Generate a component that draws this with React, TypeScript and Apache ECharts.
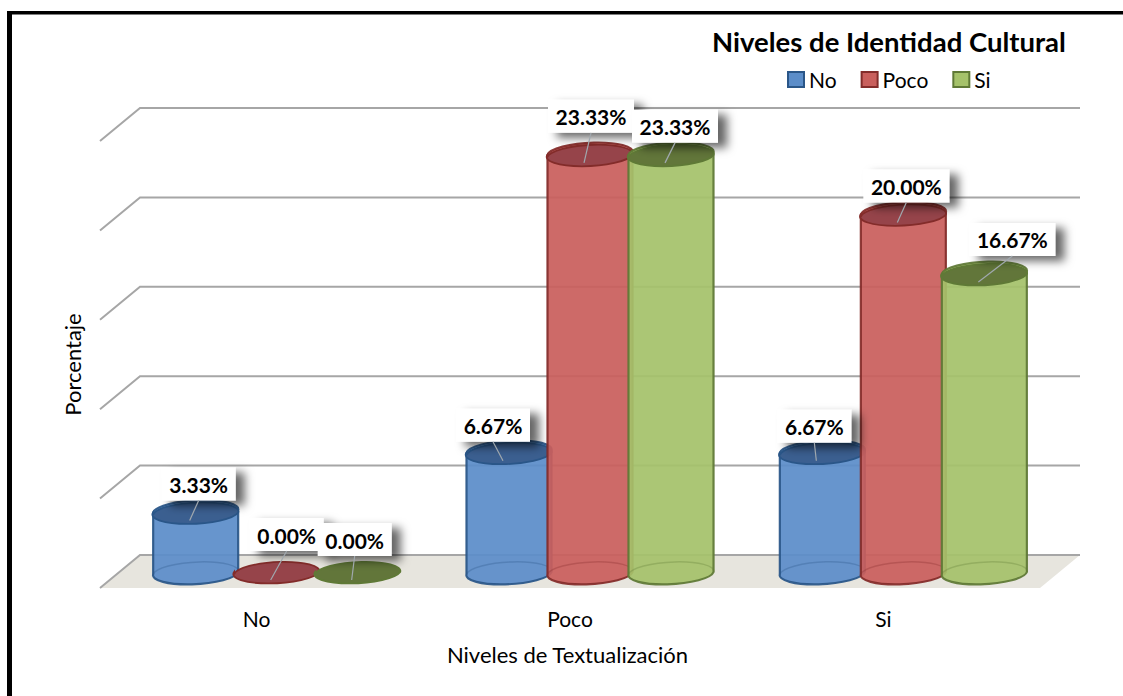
import React, { useEffect, useRef } from "react";
import * as echarts from "echarts";

const categories = ["No", "Poco", "Si"];
const seriesNames = ["No", "Poco", "Si"];
const noValues = [3.33, 6.67, 6.67];
const pocoValues = [0, 23.33, 20];
const siValues = [0, 23.33, 16.67];
const wallTicks = [0, 5, 10, 15, 20, 25];

const FONT = "Lato, 'Open Sans', sans-serif";
const BAR_SPREAD = 81;
const DEPTH_X = 40;
const DEPTH_Y = 33;
const MID_X = 20;
const MID_Y = 16;
const RX = 42.5;
const RY = 11;
const TILT = 3;
const TILT_DY = RX * Math.sin((TILT * Math.PI) / 180);

const palette = [
  { body: "#5b8dc9", edge: "#2a5688", top: "#3b5f90" },
  { body: "#c95f5c", edge: "#832c2a", top: "#96444a" },
  { body: "#a5c26a", edge: "#5f7936", top: "#62763a" },
];

// label placement relative to each cylinder's top, [series][category]
const labelShift = [
  [[3, -28], [-16, -27], [-8, -26]],
  [[10, -37], [1, -38], [3, -28]],
  [[-3, -32], [4, -28], [28, -34]],
];

function cylinderItem(seriesIndex: number) {
  return (_params: any, api: any) => {
    const cat = api.value(0);
    const val = api.value(1);
    const c = palette[seriesIndex];
    const x = api.coord([cat, 0])[0] + MID_X + (seriesIndex - 1) * BAR_SPREAD;
    const yBase = api.coord([cat, 0])[1] - MID_Y;
    const yTop = api.coord([cat, val])[1] - MID_Y;
    const l = x - RX;
    const r = x + RX;
    const arc = `A${RX} ${RY} ${-TILT}`;
    const body =
      `M${l} ${yTop + TILT_DY}L${l} ${yBase + TILT_DY}` +
      `${arc} 0 0 ${r} ${yBase - TILT_DY}L${r} ${yTop - TILT_DY}` +
      `${arc} 0 0 ${l} ${yTop + TILT_DY}Z`;
    const back = `M${l} ${yBase + TILT_DY}${arc} 0 1 ${r} ${yBase - TILT_DY}`;
    const top =
      `M${l} ${yTop + TILT_DY}${arc} 0 1 ${r} ${yTop - TILT_DY}` +
      `${arc} 0 1 ${l} ${yTop + TILT_DY}Z`;
    const children: any[] = [];
    if (val > 0) {
      children.push({
        type: "path",
        shape: { pathData: body },
        style: { fill: c.body, stroke: c.edge, lineWidth: 2.2, opacity: 0.93 },
      });
      children.push({
        type: "path",
        shape: { pathData: back },
        style: { fill: "none", stroke: c.edge, lineWidth: 1.5, opacity: 0.3 },
      });
    }
    children.push({
      type: "path",
      shape: { pathData: top },
      style: { fill: c.top, stroke: c.edge, lineWidth: 1.8 },
    });
    return { type: "group", children };
  };
}

function wallItem(params: any, api: any) {
  const v = api.value(1);
  const y = api.coord([0, v])[1];
  const left = params.coordSys.x;
  const right = left + params.coordSys.width;
  const children: any[] = [];
  if (v === 0) {
    children.push({
      type: "polygon",
      shape: {
        points: [
          [left, y],
          [left + DEPTH_X, y - DEPTH_Y],
          [right + DEPTH_X, y - DEPTH_Y],
          [right, y],
        ],
      },
      style: { fill: "#e7e5de" },
    });
  }
  children.push({
    type: "polyline",
    shape: {
      points: [
        [left, y],
        [left + DEPTH_X, y - DEPTH_Y],
        [right + DEPTH_X, y - DEPTH_Y],
      ],
    },
    style: { stroke: "#a6a6a6", lineWidth: 2, fill: "none" },
  });
  return { type: "group", children };
}

function labelItem(seriesIndex: number) {
  return (_params: any, api: any) => {
    const cat = api.value(0);
    const val = api.value(1);
    const x = api.coord([cat, 0])[0] + MID_X + (seriesIndex - 1) * BAR_SPREAD;
    const y = api.coord([cat, val])[1] - MID_Y;
    const [dx, dy] = labelShift[seriesIndex][cat];
    const lx = x + dx;
    const ly = y + dy;
    const w = val >= 10 ? 86 : 74;
    return {
      type: "group",
      children: [
        {
          type: "rect",
          shape: { x: lx - w / 2, y: ly - 17, width: w, height: 33 },
          style: {
            fill: "#ffffff",
            shadowBlur: 10,
            shadowOffsetX: 9,
            shadowOffsetY: 5,
            shadowColor: "rgba(0,0,0,0.6)",
          },
        },
        {
          type: "line",
          shape: { x1: lx, y1: ly + 16, x2: x - 6, y2: y + 8 },
          style: { stroke: "#a0a8ae", lineWidth: 1.2 },
        },
        {
          type: "text",
          x: lx,
          y: ly,
          style: {
            text: val.toFixed(2) + "%",
            fill: "#000000",
            font: `bold 21px ${FONT}`,
            align: "center",
            verticalAlign: "middle",
          },
        },
      ],
    };
  };
}

export default function App() {
  const ref = useRef<HTMLDivElement>(null);
  useEffect(() => {
    document.body.style.margin = "0";
    const chart = echarts.init(ref.current!, undefined, { renderer: "svg" });
    const allValues = [noValues, pocoValues, siValues];
    const toData = (vals: number[]) => vals.map((v, i) => [i, v]);
    chart.setOption({
      animation: false,
      backgroundColor: "#ffffff",
      title: {
        text: "Niveles de Identidad Cultural",
        left: 712,
        top: 27,
        padding: 0,
        textStyle: { fontFamily: FONT, fontSize: 27.5, fontWeight: "bold", color: "#000" },
      },
      legend: {
        data: seriesNames,
        left: 787,
        top: 69,
        padding: 0,
        itemWidth: 16,
        itemHeight: 15,
        itemGap: 24,
        icon: "rect",
        textStyle: { fontFamily: FONT, fontSize: 21, color: "#000" },
      },
      grid: { left: 100, width: 940, top: 141, bottom: 108 },
      xAxis: {
        type: "category",
        data: categories,
        axisLine: { show: false },
        axisTick: { show: false },
        axisLabel: { margin: 20, fontFamily: FONT, fontSize: 21, color: "#000" },
        name: "Niveles de Textualización",
        nameLocation: "middle",
        nameGap: 55,
        nameTextStyle: { fontFamily: FONT, fontSize: 22, color: "#000", padding: [0, 5, 0, 0] },
      },
      yAxis: {
        type: "value",
        min: 0,
        max: 25,
        interval: 5,
        axisLine: { show: false },
        axisTick: { show: false },
        axisLabel: { show: false },
        splitLine: { show: false },
        name: "Porcentaje",
        nameLocation: "middle",
        nameGap: 17,
        nameRotate: 90,
        nameTextStyle: { fontFamily: FONT, fontSize: 22, color: "#000" },
      },
      graphic: [
        { type: "rect", shape: { x: 7, y: 11, width: 1116, height: 3.5 }, style: { fill: "#000" } },
        { type: "rect", shape: { x: 7, y: 11, width: 5, height: 685 }, style: { fill: "#000" } },
      ],
      series: [
        {
          type: "custom",
          name: "wall",
          z: 1,
          silent: true,
          clip: false,
          encode: { x: 0, y: 1 },
          data: wallTicks.map((t) => [0, t]),
          renderItem: wallItem,
        },
        ...seriesNames.map((name, s) => ({
          type: "custom",
          name,
          z: 2 + s,
          clip: false,
          encode: { x: 0, y: 1 },
          itemStyle: { color: palette[s].body, borderColor: palette[s].edge, borderWidth: 2 },
          data: toData(allValues[s]),
          renderItem: cylinderItem(s),
        })),
        ...seriesNames.map((name, s) => ({
          type: "custom",
          name: name + " labels",
          z: 6 + s,
          clip: false,
          encode: { x: 0, y: 1 },
          data: toData(allValues[s]),
          renderItem: labelItem(s),
        })),
      ],
    });
    return () => chart.dispose();
  }, []);
  return <div ref={ref} style={{ width: 1123, height: 696 }} />;
}
